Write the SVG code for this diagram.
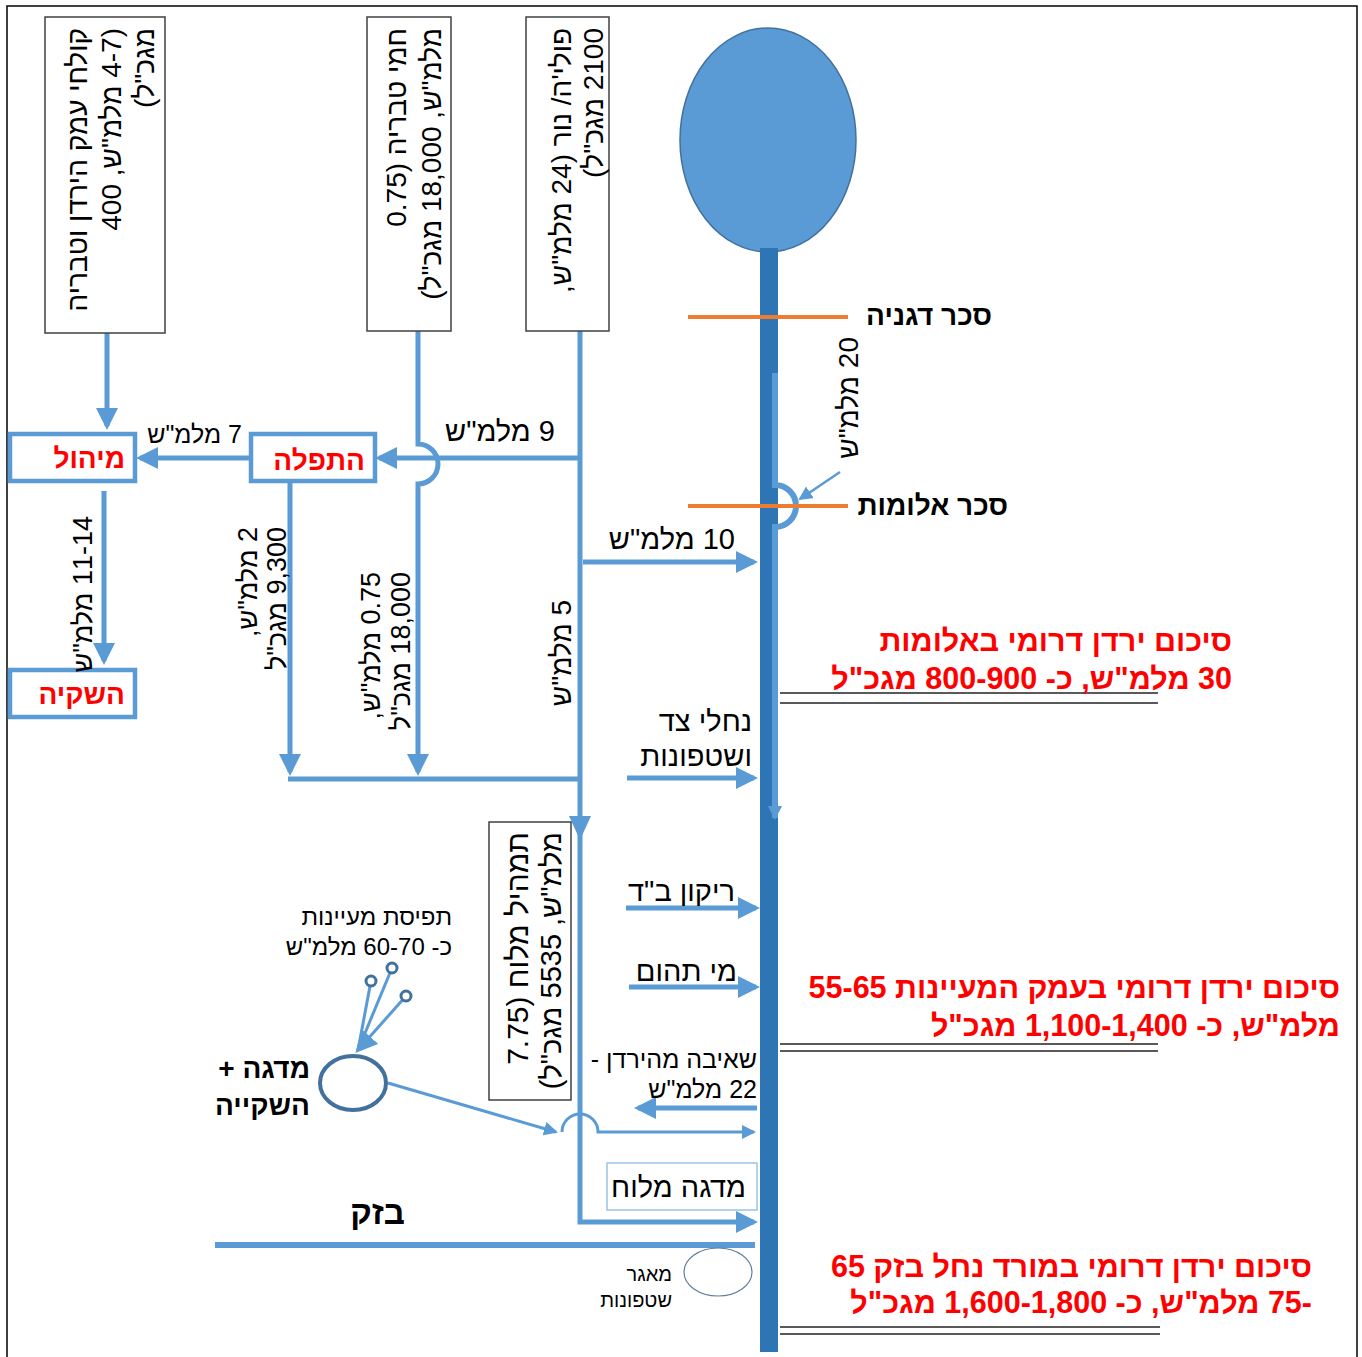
<svg xmlns="http://www.w3.org/2000/svg" width="1362" height="1357" viewBox="0 0 1362 1357">
<defs>
<style>
text{font-family:'Liberation Sans','DejaVu Sans',sans-serif;direction:rtl;text-anchor:start;fill:#000;font-size:29px}
.rt{font-size:28px}
.rn{font-size:27px}
.s25{font-size:25px}
.s24{font-size:24px}
.s20{font-size:20px}
.b{font-weight:bold;font-size:28px}
.nb{font-weight:bold;fill:#FF0000;font-size:28px}
.red{fill:#FF0000;font-weight:bold;font-size:30.5px}
.box{fill:#fff;stroke:#404040;stroke-width:1.5}
.nbox{fill:#fff;stroke:#5B9BD5;stroke-width:4.5}
.c{fill:none;stroke:#5B9BD5;stroke-width:5}
.thin{fill:none;stroke:#5B9BD5;stroke-width:3}
.dam{stroke:#ED7D31;stroke-width:4}
.ul{stroke:#595959;stroke-width:2}
</style>
<marker id="ah" markerUnits="userSpaceOnUse" markerWidth="22" markerHeight="22" viewBox="0 0 22 22" refX="18" refY="11" orient="auto"><path d="M0,0 L22,11 L0,22 z" fill="#5B9BD5"/></marker>
<marker id="ahs" markerUnits="userSpaceOnUse" markerWidth="14" markerHeight="14" viewBox="0 0 14 14" refX="12" refY="7" orient="auto"><path d="M0,0 L14,7 L0,14 z" fill="#5B9BD5"/></marker>
</defs>

<rect x="7" y="6" width="1350" height="1360" fill="#fff" stroke="#000" stroke-width="1.5"/>

<g id="lake"><ellipse cx="768" cy="140" rx="88" ry="112" fill="#5B9BD5" stroke="#41719C" stroke-width="1.5"/></g>

<g id="connectors">
<line x1="769" y1="248" x2="769" y2="1352" stroke="#2E75B6" stroke-width="18"/>
<path d="M775,373 V485 A21,21 0 0 1 775,527 V818" fill="none" stroke="#5B9BD5" stroke-width="6" marker-end="url(#ahs)"/>
<line x1="840" y1="472" x2="800" y2="499" stroke="#5B9BD5" stroke-width="2.5" marker-end="url(#ahs)"/>
<line x1="688" y1="317" x2="848" y2="317" class="dam"/>
<line x1="688" y1="506" x2="848" y2="506" class="dam"/>

<path d="M107,333 V426" class="c" marker-end="url(#ah)"/>
<path d="M418,331 V444 A20,20 0 0 1 418,484 V772" class="c" marker-end="url(#ah)"/>
<path d="M580,331 V1222 H754" class="c" marker-end="url(#ah)"/>
<polygon points="569,816 591,816 580,840" fill="#5B9BD5"/>
<path d="M580,458 H379" class="c" marker-end="url(#ah)"/>
<path d="M250,458 H140" class="c" marker-end="url(#ah)"/>
<path d="M104,491 V661" class="c" marker-end="url(#ah)"/>
<path d="M290,481 V772" class="c" marker-end="url(#ah)"/>
<path d="M288,779 H580" class="c"/>
<path d="M583,562 H754" class="c" marker-end="url(#ah)"/>
<path d="M627,778 H754" class="c" marker-end="url(#ah)"/>
<path d="M626,908 H756" class="c" marker-end="url(#ah)"/>
<path d="M629,987 H756" class="c" marker-end="url(#ah)"/>
<path d="M757,1108 H638" class="c" marker-end="url(#ah)"/>
<path d="M388,1083 L556,1132" class="thin" marker-end="url(#ahs)"/>
<path d="M562,1132 A18,18 0 0 1 598,1132 H754" class="thin" marker-end="url(#ahs)"/>
<line x1="215" y1="1245" x2="755" y2="1245" stroke="#5B9BD5" stroke-width="6"/>
<path d="M371,981 L358,1050" class="thin"/>
<path d="M392,968 L358,1050" class="thin"/>
<path d="M406,996 L358,1050" class="thin" marker-end="url(#ah)"/>
<circle cx="371" cy="981" r="5" fill="#fff" stroke="#41719C" stroke-width="3"/>
<circle cx="392" cy="968" r="5" fill="#fff" stroke="#41719C" stroke-width="3"/>
<circle cx="406" cy="996" r="5" fill="#fff" stroke="#41719C" stroke-width="3"/>

<line x1="780" y1="693" x2="1158" y2="693" class="ul"/>
<line x1="780" y1="703" x2="1158" y2="703" class="ul"/>
<line x1="780" y1="1044" x2="1158" y2="1044" class="ul"/>
<line x1="780" y1="1051" x2="1158" y2="1051" class="ul"/>
<line x1="780" y1="1327" x2="1160" y2="1327" class="ul"/>
<line x1="780" y1="1334" x2="1160" y2="1334" class="ul"/>
</g>

<g id="box-kolhei">
<rect x="45" y="17" width="120" height="316" class="box"/>
<text transform="translate(87,28) rotate(-90)" class="rt">קולחי עמק הירדן וטבריה</text>
<text transform="translate(121,28) rotate(-90)" class="rt">(4-7 מלמ"ש, 400</text>
<text transform="translate(154,28) rotate(-90)" class="rt">מגכ"ל)</text>
</g>
<g id="box-hamei">
<rect x="367" y="17" width="84" height="314" class="box"/>
<text transform="translate(406,28) rotate(-90)" class="rt">חמי טבריה (0.75</text>
<text transform="translate(441,28) rotate(-90)" class="rt">מלמ"ש, 18,000 מגכ"ל)</text>
</g>
<g id="box-polia">
<rect x="526" y="17" width="83" height="314" class="box"/>
<text transform="translate(571,28) rotate(-90)" class="rt">פולי'ה/ נור (24 מלמ"ש,</text>
<text transform="translate(603,28) rotate(-90)" class="rt">2100 מגכ"ל)</text>
</g>

<g id="node-hatpala">
<rect x="251" y="434" width="124" height="47" class="nbox"/>
<text x="365" y="470" class="nb">התפלה</text>
</g>
<g id="node-mihul">
<rect x="10" y="434" width="125" height="47" class="nbox"/>
<text x="125" y="468" class="nb">מיהול</text>
</g>
<g id="node-hashkaya">
<rect x="10" y="670" width="125" height="47" class="nbox"/>
<text x="125" y="704" class="nb">השקיה</text>
</g>

<g id="labels">
<text x="555" y="441">9 מלמ"ש</text>
<text x="242" y="443" class="s25">7 מלמ"ש</text>
<text transform="translate(92,516) rotate(-90)" class="rn">11-14 מלמ"ש</text>
<text transform="translate(257,527) rotate(-90)" class="rn">2 מלמ"ש,</text>
<text transform="translate(286,527) rotate(-90)" class="rn">9,300 מגכ"ל</text>
<text transform="translate(380,572) rotate(-90)" class="rn">0.75 מלמ"ש,</text>
<text transform="translate(410,572) rotate(-90)" class="rn">18,000 מגכ"ל</text>
<text transform="translate(571,600) rotate(-90)" class="rt">5 מלמ"ש</text>
<text transform="translate(858,337) rotate(-90)" class="rt">20 מלמ"ש</text>
<text x="735" y="549">10 מלמ"ש</text>
<text x="752" y="731">נחלי צד</text>
<text x="752" y="766">ושטפונות</text>
<text x="735" y="901">ריקון ב"ד</text>
<text x="737" y="981">מי תהום</text>
<text x="757" y="1068" class="s25">שאיבה מהירדן -</text>
<text x="757" y="1098" class="s25">22 מלמ"ש</text>
<text x="452" y="925" class="s24">תפיסת מעיינות</text>
<text x="452" y="955" class="s24">כ- 60-70 מלמ"ש</text>
<text x="992" y="325" class="b">סכר דגניה</text>
<text x="1008" y="515" class="b">סכר אלומות</text>
<text x="405" y="1224" class="b" style="font-size:33px">בזק</text>
</g>

<g id="node-tamahil">
<rect x="489" y="822" width="82" height="278" class="box"/>
<text transform="translate(528,832) rotate(-90)" style="font-size:30px">תמהיל מלוח (7.75</text>
<text transform="translate(561,832) rotate(-90)" style="font-size:29px">מלמ"ש, 5535 מגכ"ל)</text>
</g>

<g id="node-midga-haskaya">
<ellipse cx="353" cy="1083" rx="33" ry="27" fill="#fff" stroke="#41719C" stroke-width="4"/>
<text x="310" y="1078" class="b">מדגה +</text>
<text x="310" y="1115" class="b">השקייה</text>
</g>

<g id="node-midga-maluah">
<rect x="607" y="1163" width="150" height="47" fill="#fff" stroke="#9DC3E6" stroke-width="1.5"/>
<text x="746" y="1197">מדגה מלוח</text>
</g>

<g id="node-maagar">
<ellipse cx="718" cy="1272" rx="34" ry="24" fill="#fff" stroke="#5F7F9F" stroke-width="1.2"/>
<text x="672" y="1281" class="s20">מאגר</text>
<text x="672" y="1307" class="s20">שטפונות</text>
</g>

<g id="summaries">
<text x="1232" y="651" class="red">סיכום ירדן דרומי באלומות</text>
<text x="1232" y="689" class="red">30 מלמ"ש, כ- 800-900 מגכ"ל</text>
<text x="1340" y="998" class="red">סיכום ירדן דרומי בעמק המעיינות 55-65</text>
<text x="1340" y="1036" class="red">מלמ"ש, כ- 1,100-1,400 מגכ"ל</text>
<text x="1312" y="1277" class="red">סיכום ירדן דרומי במורד נחל בזק 65</text>
<text x="1312" y="1313" class="red">-75 מלמ"ש, כ- 1,600-1,800 מגכ"ל</text>
</g>
</svg>
